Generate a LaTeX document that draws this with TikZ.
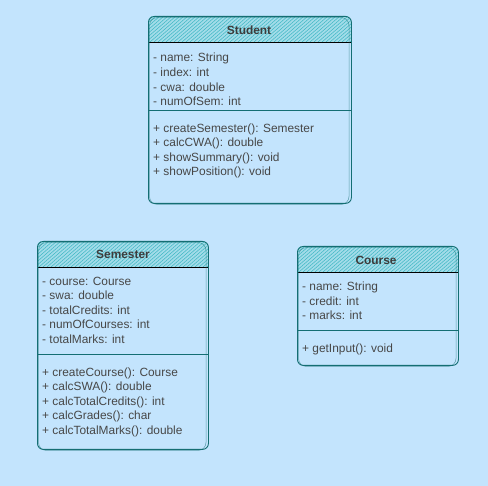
\documentclass[tikz,border=0pt]{standalone}
\usepackage{fontspec}
\setmainfont{Liberation Sans}
\definecolor{bg}{HTML}{C3E4FD}
\definecolor{hdrfill}{HTML}{A3DCE9}
\definecolor{hatch}{HTML}{3DB7C3}
\definecolor{stroke}{HTML}{146E73}
\definecolor{txt}{HTML}{474747}
\tikzset{
  box/.style={draw=stroke, line width=0.9pt, rounded corners=6pt, anchor=north west, inner sep=0pt},
  sketch/.style={draw=stroke, line width=0.5pt, rounded corners=8pt, opacity=0.6},
  member/.style={anchor=west, inner sep=0pt, text=txt, font=\fontsize{11.9}{13}\selectfont},
  title/.style={inner sep=0pt, text=txt!85!black, font=\fontsize{11.9}{13}\selectfont\bfseries},
  sep/.style={draw=stroke, line width=0.8pt},
}
\newcommand{\umlhead}[4]{% x1 y1 x2 y2
  \begin{scope}
    \clip[rounded corners=6pt] (#1,#2) -- (#3,#2) -- (#3,#4+8) -- (#1,#4+8) -- cycle;
    \clip (#1,#2) rectangle (#3,#4);
    \fill[hdrfill] (#1,#2) rectangle (#3,#4);
    \foreach \k in {0,4,...,260} {
      \draw[hatch, line width=0.5pt] (#1+\k-30,#4) -- (#1+\k,#2);
    }
  \end{scope}
  \draw[stroke, line width=0.9pt] (#1,#4) -- (#3,#4);
}
\begin{document}
\begin{tikzpicture}[x=1pt,y=-1pt]
\fill[bg] (0,0) rectangle (488,486);
\useasboundingbox (0,0) rectangle (488,486);

% Student
\umlhead{148}{16}{351}{42}
\node[box, minimum width=203pt, minimum height=187pt] (student) at (148,16) {};
\draw[sketch] (149.5,17.5) rectangle (349,204.5);
\node[title] (studentT) at (249,30) {Student};
\node[member] (s1) at (153,58) {- name: String};
\node[member] (s2) at (153,72.5) {- index: int};
\node[member] (s3) at (153,87) {- cwa: double};
\node[member] (s4) at (153,101.5) {- numOfSem: int};
\coordinate (sL) at (148,110);
\coordinate (sR) at (351,110);
\draw[sep] (sL) -- (sR);
\node[member] (s5) at (153,129) {+ createSemester(): Semester};
\node[member] (s6) at (153,143.5) {+ calcCWA(): double};
\node[member] (s7) at (153,158) {+ showSummary(): void};
\node[member] (s8) at (153,172.5) {+ showPosition(): void};

% Semester
\umlhead{37}{241}{208}{267}
\node[box, minimum width=171pt, minimum height=208pt] (semester) at (37,241) {};
\draw[sketch] (38.5,242.5) rectangle (206,450.5);
\node[title] (semesterT) at (123,254) {Semester};
\node[member] (m1) at (42,281) {- course: Course};
\node[member] (m2) at (42,295.5) {- swa: double};
\node[member] (m3) at (42,310) {- totalCredits: int};
\node[member] (m4) at (42,324.5) {- numOfCourses: int};
\node[member] (m5) at (42,339) {- totalMarks: int};
\coordinate (mL) at (37,354);
\coordinate (mR) at (208,354);
\draw[sep] (mL) -- (mR);
\node[member] (m6) at (42,373) {+ createCourse(): Course};
\node[member] (m7) at (42,387.5) {+ calcSWA(): double};
\node[member] (m8) at (42,402) {+ calcTotalCredits(): int};
\node[member] (m9) at (42,416.5) {+ calcGrades(): char};
\node[member] (m10) at (42,431) {+ calcTotalMarks(): double};

% Course
\umlhead{297}{246}{458}{272}
\node[box, minimum width=161pt, minimum height=119pt] (course) at (297,246) {};
\draw[sketch] (298.5,247.5) rectangle (456,366.5);
\node[title] (courseT) at (376,260) {Course};
\node[member] (c1) at (302,287) {- name: String};
\node[member] (c2) at (302,301) {- credit: int};
\node[member] (c3) at (302,315.5) {- marks: int};
\coordinate (cL) at (297,330);
\coordinate (cR) at (458,330);
\draw[sep] (cL) -- (cR);
\node[member] (c4) at (302,349) {+ getInput(): void};
\end{tikzpicture}
\end{document}
